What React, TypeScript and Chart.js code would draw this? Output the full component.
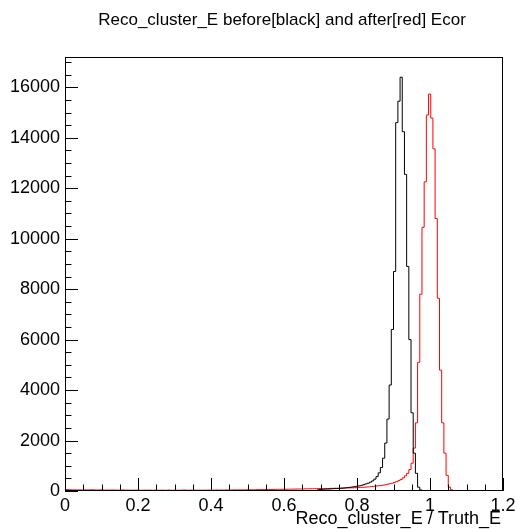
import React, { useEffect, useRef } from "react";
import { Chart, registerables } from "chart.js";

Chart.register(...registerables);

// ---- data ----
const chartTitle = "Reco_cluster_E before[black] and after[red] Ecor";
const xAxisTitle = "Reco_cluster_E / Truth_E";

const X_MIN = 0;
const X_MAX = 1.2;
const N_BINS = 200;
const Y_MAX = 17200;

const xTickValues = [0, 0.2, 0.4, 0.6, 0.8, 1.0, 1.2];
const xTickLabels = ["0", "0.2", "0.4", "0.6", "0.8", "1", "1.2"];
const xMinorStep = 0.05;
const yTickValues = [0, 2000, 4000, 6000, 8000, 10000, 12000, 14000, 16000];
const yTickLabels = ["0", "2000", "4000", "6000", "8000", "10000", "12000", "14000", "16000"];
const yMinorStep = 500;

// "before" histogram (black), bin contents starting at bin index 115
const blackFirstBin = 115;
const blackCounts = [
  10, 40, 60, 65, 70, 75, 80, 85, 90, 95,
  100, 105, 110, 120, 130, 140, 150, 160, 175, 190,
  205, 225, 250, 280, 310, 350, 400, 470, 570, 720,
  930, 1300, 1900, 2850, 4200, 6400, 8700, 14600, 15450, 16400,
  14240, 12550, 8900, 6000, 3100, 1500, 700, 150, 40, 10,
];

// "after" histogram (red), bin contents starting at bin index 0
const redFirstBin = 0;
const redCounts = [
  60, 60, 55, 50, 45, 45, 40, 45, 40, 40,
  45, 40, 45, 50, 45, 40, 40, 45, 40, 35,
  40, 35, 40, 40, 35, 35, 35, 40, 35, 35,
  35, 30, 35, 35, 35, 30, 30, 35, 30, 35,
  30, 30, 35, 30, 30, 35, 30, 30, 35, 30,
  30, 35, 30, 30, 35, 40, 35, 30, 35, 30,
  35, 30, 35, 30, 35, 35, 35, 35, 35, 35,
  40, 35, 40, 35, 40, 40, 40, 40, 45, 40,
  45, 45, 45, 45, 50, 50, 50, 50, 55, 55,
  55, 55, 60, 60, 60, 60, 65, 65, 65, 65,
  70, 70, 70, 70, 75, 75, 75, 80, 80, 80,
  85, 85, 85, 90, 90, 90, 95, 95, 95, 100,
  100, 100, 105, 105, 110, 110, 110, 115, 115, 120,
  120, 125, 125, 130, 135, 140, 145, 150, 155, 165,
  170, 180, 190, 200, 210, 220, 235, 250, 270, 290,
  310, 340, 370, 410, 460, 520, 600, 700, 850, 1100,
  1700, 2700, 5100, 7800, 10450, 12250, 14900, 15730, 14780, 13560,
  10800, 7640, 4790, 2700, 1500, 620, 150, 50, 20, 10,
];

const FONT = '"Liberation Sans", Arial, Helvetica, sans-serif';

function histPoints(first: number, counts: number[]) {
  const full: number[] = [];
  for (let i = 0; i < N_BINS; i++) {
    const k = i - first;
    full.push(k >= 0 && k < counts.length ? counts[k] : 0);
  }
  const w = (X_MAX - X_MIN) / N_BINS;
  const pts = full.map((v, i) => ({ x: X_MIN + i * w, y: v }));
  pts.push({ x: X_MAX, y: full[N_BINS - 1] });
  return pts;
}

const rootPlugin = {
  id: "rootStyle",
  afterDraw(chart: any) {
    const { ctx, chartArea } = chart;
    const xs = chart.scales.x;
    const ys = chart.scales.y;
    const { left, right, top, bottom } = chartArea;
    ctx.save();
    ctx.strokeStyle = "#000";
    ctx.lineWidth = 1;
    // frame
    ctx.strokeRect(left + 0.5, top + 0.5, right - left - 1, bottom - top - 1);
    // x ticks (inside, from bottom)
    ctx.beginPath();
    const nx = Math.round((X_MAX - X_MIN) / xMinorStep);
    for (let i = 0; i <= nx; i++) {
      const v = X_MIN + i * xMinorStep;
      const px = Math.round(xs.getPixelForValue(v)) + 0.5;
      const isMajor = xTickValues.some((t) => Math.abs(t - v) < 1e-9);
      const len = isMajor ? 13 : 6.5;
      ctx.moveTo(px, bottom);
      ctx.lineTo(px, bottom - len);
    }
    // y ticks (inside, from left)
    for (let v = 0; v <= Y_MAX; v += yMinorStep) {
      const py = Math.round(ys.getPixelForValue(v)) + 0.5;
      const isMajor = yTickValues.includes(v);
      const len = isMajor ? 13 : 6.5;
      ctx.moveTo(left, py);
      ctx.lineTo(left + len, py);
    }
    ctx.stroke();
    // titles
    ctx.fillStyle = "#000";
    ctx.font = "17px " + FONT;
    ctx.textAlign = "center";
    ctx.textBaseline = "alphabetic";
    ctx.fillText(chartTitle, 282, 25);
    ctx.font = "18px " + FONT;
    ctx.textAlign = "right";
    ctx.fillText(xAxisTitle, 501, 524);
    ctx.restore();
  },
};

export default function App() {
  const ref = useRef<HTMLCanvasElement | null>(null);
  useEffect(() => {
    document.body.style.margin = "0";
    const canvas = ref.current!;
    const chart = new Chart(canvas, {
      type: "line",
      data: {
        datasets: [
          {
            label: "before",
            data: histPoints(blackFirstBin, blackCounts),
            borderColor: "#000000",
            borderWidth: 1,
            stepped: "after",
            pointRadius: 0,
            fill: false,
          },
          {
            label: "after",
            data: histPoints(redFirstBin, redCounts),
            borderColor: "#ff0000",
            borderWidth: 1,
            stepped: "after",
            pointRadius: 0,
            fill: false,
          },
        ],
      },
      options: {
        responsive: false,
        animation: false,
        devicePixelRatio: 1,
        layout: { padding: { left: 0, right: 12, top: 57, bottom: 0 } },
        plugins: { legend: { display: false }, tooltip: { enabled: false }, title: { display: false } },
        scales: {
          x: {
            type: "linear",
            min: X_MIN,
            max: X_MAX,
            grid: { display: false, drawTicks: false },
            border: { display: false },
            afterBuildTicks: (s: any) => {
              s.ticks = xTickValues.map((v) => ({ value: v }));
            },
            afterFit: (s: any) => {
              s.height = 38;
              s.paddingLeft = 0;
              s.paddingRight = 0;
            },
            ticks: {
              autoSkip: false,
              maxRotation: 0,
              padding: 4,
              color: "#000",
              font: { family: FONT, size: 18 },
              callback: (v: any) => {
                const i = xTickValues.findIndex((t) => Math.abs(t - Number(v)) < 1e-9);
                return i >= 0 ? xTickLabels[i] : "";
              },
            },
          },
          y: {
            type: "linear",
            min: 0,
            max: Y_MAX,
            grid: { display: false, drawTicks: false },
            border: { display: false },
            afterBuildTicks: (s: any) => {
              s.ticks = yTickValues.map((v) => ({ value: v }));
            },
            afterFit: (s: any) => {
              s.width = 65;
              s.paddingTop = 0;
              s.paddingBottom = 0;
            },
            ticks: {
              autoSkip: false,
              padding: 5,
              color: "#000",
              font: { family: FONT, size: 18 },
              callback: (v: any) => {
                const i = yTickValues.indexOf(Number(v));
                return i >= 0 ? yTickLabels[i] : "";
              },
            },
          },
        },
      },
      plugins: [rootPlugin],
    } as any);
    return () => chart.destroy();
  }, []);
  return (
    <div style={{ position: "fixed", left: 0, top: 0, width: 515, height: 529, background: "#fff" }}>
      <canvas ref={ref} width={515} height={529} style={{ display: "block" }} />
    </div>
  );
}
